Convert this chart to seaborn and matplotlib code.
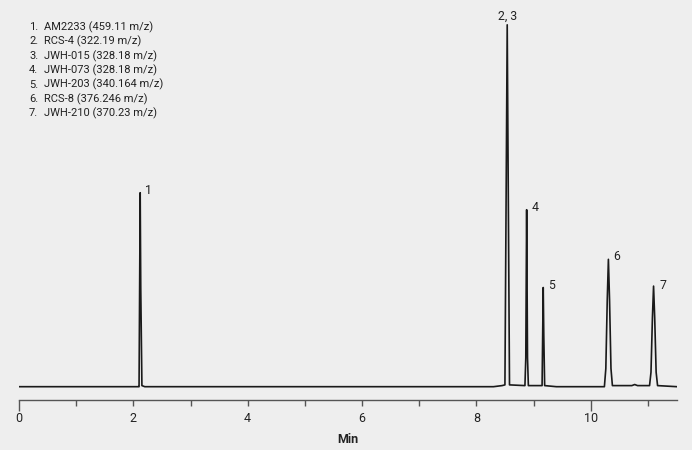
import numpy as np
import pandas as pd
import matplotlib
matplotlib.use("Agg")
import matplotlib.pyplot as plt
import seaborn as sns

# compounds listed in the top-left key
compounds = ["AM2233 (459.11 m/z)", "RCS-4 (322.19 m/z)", "JWH-015 (328.18 m/z)",
             "JWH-073 (328.18 m/z)", "JWH-203 (340.164 m/z)", "RCS-8 (376.246 m/z)",
             "JWH-210 (370.23 m/z)"]

# peak labels, apex times (min) and apex heights (relative, 2/3 = 100)
peak_labels = ["1", "2, 3", "4", "5", "6", "7"]
peak_times = [2.12, 8.54, 8.88, 9.17, 10.31, 11.10]
peak_heights = [53.6, 100.0, 48.9, 27.4, 35.2, 27.8]

# chromatogram trace
time = [0.00, 2.08, 2.10, 2.11, 2.12, 2.13, 2.15, 2.20,
        8.30, 8.45, 8.50, 8.52, 8.54, 8.56, 8.58,
        8.85, 8.865, 8.875, 8.88, 8.885, 8.895, 8.91,
        9.15, 9.16, 9.17, 9.18, 9.195, 9.40,
        10.24, 10.265, 10.29, 10.31, 10.33, 10.355, 10.38,
        10.72, 10.77, 10.82,
        11.03, 11.055, 11.08, 11.10, 11.12, 11.145, 11.17, 11.51]
signal = [0.0, 0.0, 0.0, 27.0, 53.6, 27.0, 0.3, 0.0,
          0.0, 0.3, 0.5, 50.0, 100.0, 50.0, 0.5,
          0.3, 8.0, 36.0, 48.9, 36.0, 8.0, 0.3,
          0.3, 14.0, 27.4, 14.0, 0.3, 0.0,
          0.0, 5.0, 24.0, 35.2, 24.0, 5.0, 0.3,
          0.3, 0.6, 0.3,
          0.3, 4.0, 19.0, 27.8, 19.0, 4.0, 0.3, 0.0]

sns.set_theme(style="white")
plt.rcParams['font.family'] = ['Roboto', 'DejaVu Sans']
bg = "#eeeeee"

fig = plt.figure(figsize=(6.92, 4.5), dpi=100, facecolor=bg)
ax = fig.add_axes([19 / 692, 1 - 399.5 / 450, (677 - 19) / 692, (399.5 - 10) / 450])
ax.set_facecolor(bg)

df = pd.DataFrame({"time": time, "signal": signal})
sns.lineplot(data=df, x="time", y="signal", ax=ax, color="#1a1a1a", lw=1.2,
             estimator=None, sort=False)

ax.set_xlim(0, 11.51)
ax.set_ylim(-3.54, 104.1)

# peak numbers
offsets = [(5, 2), (0, 2), (5, 2), (5, 2), (5, 3), (6, 1)]
for lab, t, h, off in zip(peak_labels, peak_times, peak_heights, offsets):
    if lab == "2, 3":
        ax.annotate(lab, (t, h), xytext=off, textcoords="offset pixels",
                    ha="center", va="bottom", fontsize=8.8, color="#222222")
    else:
        ax.annotate(lab, (t, h), xytext=off, textcoords="offset pixels",
                    ha="left", va="center", fontsize=8.8, color="#222222")

# compound key
for i, name in enumerate(compounds):
    y = 1 - (27 + i * 14.4) / 450
    fig.text(29 / 692, y, f"{i + 1}.", fontsize=8.0, color="#222222", va="center")
    fig.text(44 / 692, y, name, fontsize=8.0, color="#222222", va="center")

# axes styling
for s in ["top", "right", "left"]:
    ax.spines[s].set_visible(False)
ax.spines["bottom"].set_color("#555555")
ax.spines["bottom"].set_linewidth(1.0)
ax.set_yticks([])
ax.set_ylabel("")
ax.set_xticks([0, 2, 4, 6, 8, 10])
ax.set_xticklabels(["0", "2", "4", "6", "8", "10"])
ax.set_xticks([1, 3, 5, 7, 9, 11], minor=True)
ax.tick_params(axis="x", which="both", direction="out", length=4, width=1.0,
               color="#555555", labelsize=9, labelcolor="#222222", pad=5, bottom=True)
for tk in ax.xaxis.get_major_ticks():
    if tk.get_loc() in (0, 10):
        tk.tick1line.set_markersize(8)
ax.set_xlabel("Min", fontsize=9, fontweight="bold", color="#222222", labelpad=6)

fig.savefig("out.png", dpi=100, facecolor=bg)
